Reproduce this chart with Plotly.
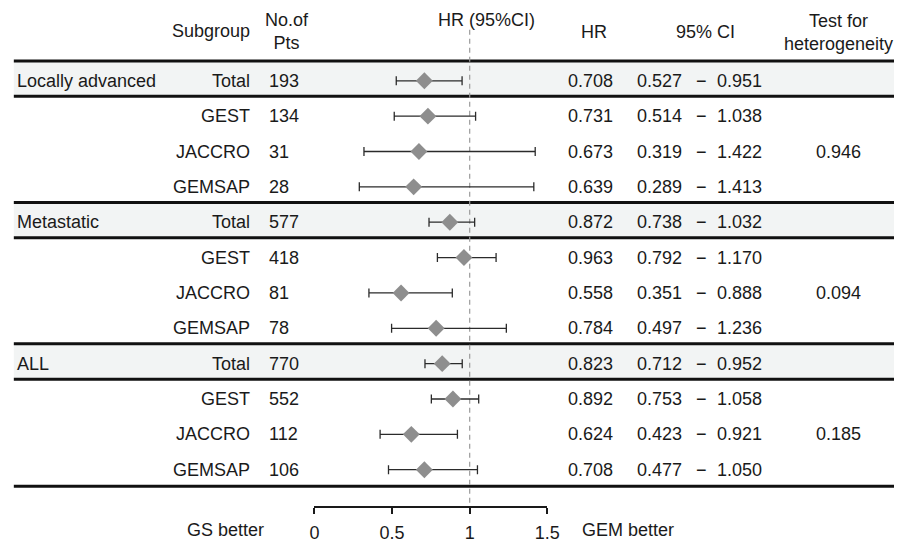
import plotly.graph_objects as go

# ---------------- data ----------------
groups = ["Locally advanced", "Metastatic", "ALL"]
subgroups = ["Total", "GEST", "JACCRO", "GEMSAP"]
n_pts = [193, 134, 31, 28, 577, 418, 81, 78, 770, 552, 112, 106]
hr = [0.708, 0.731, 0.673, 0.639, 0.872, 0.963, 0.558, 0.784, 0.823, 0.892, 0.624, 0.708]
ci_low = [0.527, 0.514, 0.319, 0.289, 0.738, 0.792, 0.351, 0.497, 0.712, 0.753, 0.423, 0.477]
ci_high = [0.951, 1.038, 1.422, 1.413, 1.032, 1.170, 0.888, 1.236, 0.952, 1.058, 0.921, 1.050]
het_p = ["0.946", "0.094", "0.185"]
x_ticks = [0, 0.5, 1, 1.5]
x_ticklabels = ["0", "0.5", "1", "1.5"]

# ---------------- layout geometry ----------------
W, H = 907, 543
ROW0 = 81.7      # pixel centre of first row
PITCH = 35.75    # pixel height per row
FONT = dict(family="Liberation Sans, Arial, Helvetica, sans-serif", size=18, color="#1a1a1a")


def px2row(p):
    return (p - ROW0) / PITCH


def px2paper(p):
    return p / W


n_rows = len(hr)
rows = list(range(n_rows))

fig = go.Figure()

# CI bars + diamonds
fig.add_trace(go.Scatter(
    x=hr, y=rows, mode="markers",
    marker=dict(symbol="diamond", size=13, color="#8e8e8e", line=dict(width=0)),
    error_x=dict(type="data", symmetric=False,
                 array=[h - v for h, v in zip(ci_high, hr)],
                 arrayminus=[v - l for v, l in zip(hr, ci_low)],
                 color="#2b2b2b", thickness=1.3, width=4.5),
    showlegend=False, hoverinfo="skip", cliponaxis=False,
))

shapes = []
annotations = []


def ann(text, xpx, row, anchor="center", **kw):
    annotations.append(dict(text=text, x=px2paper(xpx), xref="paper", y=row, yref="y",
                            xanchor=anchor, yanchor="middle", showarrow=False,
                            borderpad=0, font=FONT, **kw))


# shaded "Total" rows and separators
for g in range(len(groups)):
    r = g * len(subgroups)
    shapes.append(dict(type="rect", xref="paper", yref="y", x0=px2paper(9), x1=1,
                       y0=r - 0.56, y1=r + 0.44, fillcolor="#f2f4f4",
                       line=dict(width=0), layer="below"))
for g in range(len(groups)):
    r = g * len(subgroups)
    for yy in (r - 0.56, r + 0.44):
        shapes.append(dict(type="line", xref="paper", yref="y", x0=px2paper(9), x1=1,
                           y0=yy, y1=yy, line=dict(color="#111111", width=3), layer="below"))
last = n_rows - 1 + 0.47
shapes.append(dict(type="line", xref="paper", yref="y", x0=px2paper(9), x1=1,
                   y0=last, y1=last, line=dict(color="#111111", width=3), layer="below"))

# reference line at HR = 1
shapes.append(dict(type="line", xref="x", yref="y", x0=1, x1=1,
                   y0=px2row(30), y1=px2row(512.7),
                   line=dict(color="#9a9a9a", width=1.2, dash="5px,4px"), layer="below"))

# headers
ann("Subgroup", 251, px2row(31.7), anchor="right")
ann("No.of<br>Pts", 288, px2row(32), align="center")
ann("HR (95%CI)", 491, px2row(20.7))
ann("HR", 601.3, px2row(32))
ann("95% CI", 715, px2row(32))
ann("Test for<br>heterogeneity", 850, px2row(32.7), align="center")

# table rows
for i in rows:
    g, s = divmod(i, len(subgroups))
    if s == 0:
        ann(groups[g], 11.7, i, anchor="left")
    ann(subgroups[s], 251, i, anchor="right")
    ann(str(n_pts[i]), 268.5, i, anchor="left")
    ann(f"{hr[i]:.3f}", 597, i)
    ann(f"{ci_low[i]:.3f}", 667.5, i)
    ann("\u2212", 711, i)
    ann(f"{ci_high[i]:.3f}", 749, i)
    if s == 2:
        ann(het_p[g], 850, i)

# axis side labels
ann("GS better", 224.5, px2row(536))
ann("GEM better", 636, px2row(536))

fig.update_layout(
    width=W, height=H, margin=dict(l=0, r=0, t=0, b=0),
    paper_bgcolor="white", plot_bgcolor="rgba(0,0,0,0)",
    shapes=shapes, annotations=annotations, font=FONT,
    xaxis=dict(domain=[px2paper(315.7), px2paper(553.3)], range=[0, 1.5],
               anchor="free", position=1 - 512.7 / H,
               showline=True, linecolor="#1a1a1a", linewidth=1.5,
               ticks="outside", ticklen=6, tickwidth=1.5, tickcolor="#1a1a1a",
               tickvals=x_ticks, ticktext=x_ticklabels, ticklabelstandoff=4,
               showgrid=False, zeroline=False, tickfont=FONT, fixedrange=True),
    yaxis=dict(domain=[0, 1], range=[px2row(H), px2row(0)], visible=False,
               showgrid=False, zeroline=False, fixedrange=True),
)

fig.write_html("out.html", config={"displayModeBar": False},
               post_script="document.body.style.margin='0';document.body.style.overflow='hidden';")
